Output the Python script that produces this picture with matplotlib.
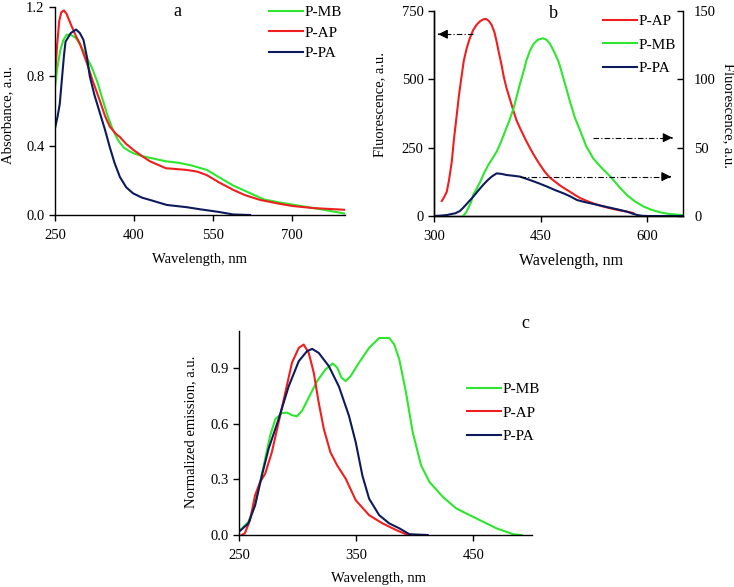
import matplotlib
matplotlib.use("Agg")
import matplotlib.pyplot as plt

plt.rcParams["font.family"] = ["Liberation Serif", "DejaVu Serif"]
plt.rcParams["axes.linewidth"] = 1.0

GREEN = "#2ee62e"
RED = "#f01e1e"
NAVY = "#0d1a5c"

# --- panel a: absorbance ---
a_mb_x = [250, 255, 260, 266, 272, 280, 290, 300, 310, 320, 330, 340, 350, 360, 370,
          380, 390, 400, 415, 430, 460, 487, 510, 538, 560, 588, 610, 646, 677, 720, 760, 800]
a_mb_y = [0.74, 0.86, 0.95, 1.01, 1.04, 1.04, 1.02, 0.97, 0.91, 0.85, 0.77, 0.67, 0.57, 0.49, 0.43,
          0.39, 0.37, 0.355, 0.34, 0.33, 0.31, 0.30, 0.285, 0.26, 0.22, 0.17, 0.14, 0.09, 0.072,
          0.05, 0.03, 0.008]
a_ap_x = [250, 254, 258, 262, 267, 272, 280, 290, 297, 310, 322, 335, 345, 354, 365, 373, 385, 399,
          415, 430, 445, 460, 480, 500, 520, 538, 560, 588, 610, 639, 677, 700, 740, 800]
a_ap_y = [0.80, 0.98, 1.12, 1.17, 1.18, 1.16, 1.10, 1.03, 0.99, 0.88, 0.77, 0.66, 0.57, 0.51, 0.47, 0.45,
          0.41, 0.375, 0.34, 0.31, 0.29, 0.27, 0.265, 0.26, 0.25, 0.23, 0.19, 0.145, 0.115, 0.087,
          0.064, 0.052, 0.04, 0.03]
a_pa_x = [250, 255, 259, 263, 267, 270, 280, 290, 297, 304, 310, 316, 325, 335, 345, 354, 363, 373,
          385, 398, 415, 430, 462, 500, 525, 560, 588, 620]
a_pa_y = [0.50, 0.57, 0.64, 0.78, 0.92, 1.00, 1.05, 1.07, 1.05, 1.01, 0.92, 0.80, 0.69, 0.59, 0.49,
          0.39, 0.30, 0.22, 0.16, 0.125, 0.10, 0.087, 0.058, 0.045, 0.033, 0.018, 0.003, 0.0]

# --- panel b: fluorescence (P-AP on left axis, P-MB / P-PA on right axis) ---
b_ap_x = [311, 314, 318, 321, 325, 328, 332, 335, 339, 342, 346, 350, 355, 360, 365, 369, 373, 377,
          381, 385, 388, 391, 395, 398, 402, 407, 412, 416, 421, 428, 435, 442, 449, 456, 463, 470,
          477, 484, 491, 498, 506, 515, 524, 536, 548, 560, 571, 580]
b_ap_y = [55, 68, 89, 130, 199, 280, 370, 440, 516, 570, 614, 648, 680, 700, 713, 719, 721, 714,
          699, 672, 638, 600, 552, 510, 467, 425, 382, 350, 321, 283, 248, 216, 187, 161, 140, 126,
          112, 100, 89, 77, 65, 55, 46, 36, 28, 21, 16, 11]
b_mb_x = [341, 345, 348, 352, 355, 360, 365, 370, 376, 382, 388, 394, 400, 406, 412, 416, 421, 426,
          430, 435, 440, 446, 453, 458, 463, 469, 475, 478, 484, 491, 498, 506, 514, 524, 536, 548,
          560, 571, 583, 595, 606, 618, 630, 649]
b_mb_y = [0, 2.5, 5.6, 10, 15.4, 20, 25, 31, 37, 42, 47, 54, 62, 70, 79, 87, 97, 106,
          114, 121, 126, 129, 130, 129, 126, 120, 113, 108, 97, 84, 72, 61.7, 51, 42, 35, 28.8,
          21.5, 15.4, 10.5, 6.8, 4.5, 2.7, 1.5, 0.7]
b_pa_x = [300, 310, 318, 325, 330, 336, 341, 348, 355, 362, 369, 375, 381, 388, 395, 402, 412, 421,
          435, 447, 459, 470, 482, 491, 501, 512, 524, 536, 548, 560, 571, 580, 586, 592, 600, 650]
b_pa_y = [0, 0.3, 0.7, 1.5, 2, 3.5, 6, 10, 14, 18.5, 22.7, 26, 28.8, 31.2, 30.8, 30, 29.4, 28.8,
          26.3, 24, 21.5, 19, 16.6, 14.5, 11.7, 10.2, 8.8, 7.4, 6, 4.6, 3.2, 1.6, 0.7, 0.2, 0, 0]

# --- panel c: normalized emission ---
c_mb_x = [250, 258, 263.7, 268, 272.3, 276.6, 281, 286.6, 290.9, 295.2, 299.5, 303.8, 309.5, 316.7,
          323.8, 330, 333.8, 337.5, 341, 345.3, 352.4, 361, 369.6, 378.2, 382.5, 386.8, 392.5, 398.2,
          405.4, 412.5, 424, 435.4, 452.6, 469.7, 484, 491.2]
c_mb_y = [0.018, 0.071, 0.16, 0.286, 0.41, 0.536, 0.625, 0.657, 0.66, 0.646, 0.64, 0.67, 0.741, 0.83,
          0.893, 0.925, 0.902, 0.848, 0.83, 0.857, 0.929, 1.009, 1.0625, 1.0625, 1.027, 0.946, 0.768,
          0.554, 0.375, 0.286, 0.205, 0.143, 0.089, 0.036, 0.004, 0.0]
c_ap_x = [252.3, 255, 259.4, 263.7, 268, 272.3, 278, 283.8, 289.5, 295.2, 301, 305.2, 309.5, 313.8,
          318, 322.4, 328, 333.8, 341, 349.6, 361, 372.5, 384, 392.5, 399.6]
c_ap_y = [0.0, 0.009, 0.08, 0.214, 0.286, 0.33, 0.446, 0.607, 0.768, 0.929, 1.009, 1.027, 0.982, 0.875,
          0.714, 0.571, 0.446, 0.375, 0.304, 0.1875, 0.107, 0.0625, 0.027, 0.004, 0.0]
c_pa_x = [250, 258, 263.7, 269.5, 275.2, 283.8, 292.3, 301, 308, 312.4, 318, 326.7, 335.3, 343.8,
          349.6, 355.3, 361, 369.6, 378.2, 386.8, 395.4, 411]
c_pa_y = [0.018, 0.0625, 0.16, 0.32, 0.464, 0.625, 0.80, 0.9375, 0.991, 1.0036, 0.982, 0.91, 0.80,
          0.643, 0.5, 0.32, 0.196, 0.107, 0.0625, 0.036, 0.004, 0.0]

# dash-dot arrows in panel b: (start, tip) in data units of the axis they belong to
ARROW_AP = ((355, 665), (306, 665))     # left axis
ARROW_MB = ((524, 57.3), (635, 57.3))   # right axis
ARROW_PA = ((421, 28.8), (633, 28.8))   # right axis

W, H = 734, 587


def px_rect(left, top, right, bottom):
    return [left / W, 1 - bottom / H, (right - left) / W, (bottom - top) / H]


def style(ax, right=False):
    ax.spines["top"].set_visible(False)
    if not right:
        ax.spines["right"].set_visible(False)
    ax.tick_params(direction="out", length=4, width=1, labelsize=10.5)
    ax.tick_params(axis="x", pad=6)


def legend(ax, handles, left, top, spacing):
    ax.legend(handles=handles, loc="upper left", bbox_to_anchor=(left / W, 1 - top / H),
              bbox_transform=fig.transFigure, frameon=False, fontsize=11, borderpad=0,
              borderaxespad=0, handlelength=2.2, handletextpad=0.15, labelspacing=spacing)


def arrow(ax, start, tip):
    ax.plot([start[0], tip[0]], [start[1], tip[1]], color="black", lw=0.8,
            ls=(0, (5, 2, 1, 2)))
    back = tip[0] + (start[0] - tip[0]) * 0.01
    ax.annotate("", xy=tip, xytext=(back, tip[1]),
                arrowprops=dict(arrowstyle="-|>", color="black", lw=0.8, mutation_scale=14))


fig = plt.figure(figsize=(W / 100, H / 100), dpi=100)

# panel a
ax_a = fig.add_axes(px_rect(55, 7, 345, 215))
l_mb, = ax_a.plot(a_mb_x, a_mb_y, color=GREEN, lw=1.5, label="P-MB")
l_ap, = ax_a.plot(a_ap_x, a_ap_y, color=RED, lw=1.5, label="P-AP")
l_pa, = ax_a.plot(a_pa_x, a_pa_y, color=NAVY, lw=1.5, label="P-PA")
ax_a.set_xlim(250, 800)
ax_a.set_ylim(0, 1.2)
ax_a.set_xticks([250, 400, 550, 700])
ax_a.set_yticks([0.0, 0.4, 0.8, 1.2])
ax_a.set_yticklabels(["0.0", "0.4", "0.8", "1.2"])
style(ax_a)
ax_a.set_xlabel("Wavelength, nm", fontsize=10.5)
ax_a.xaxis.set_label_coords(0.5, -0.183)
ax_a.set_ylabel("Absorbance, a.u.", fontsize=10.5)
ax_a.yaxis.set_label_coords(-0.141, 0.48)
legend(ax_a, [l_mb, l_ap, l_pa], 269, 5.5, 0.45)
fig.text(177 / W, 1 - 12 / H, "a", fontsize=13, ha="center", va="center")

# panel b
ax_b = fig.add_axes(px_rect(434, 11, 683, 216))
ax_b2 = ax_b.twinx()
m_ap, = ax_b.plot(b_ap_x, b_ap_y, color=RED, lw=1.5, label="P-AP")
m_mb, = ax_b2.plot(b_mb_x, b_mb_y, color=GREEN, lw=1.5, label="P-MB")
m_pa, = ax_b2.plot(b_pa_x, b_pa_y, color=NAVY, lw=1.5, label="P-PA")
ax_b.set_xlim(300, 650)
ax_b.set_ylim(0, 750)
ax_b2.set_ylim(0, 150)
ax_b.set_xticks([300, 450, 600])
ax_b.set_yticks([0, 250, 500, 750])
ax_b2.set_yticks([0, 50, 100, 150])
style(ax_b)
ax_b2.spines["top"].set_visible(False)
ax_b2.tick_params(direction="in", length=4, width=1, labelsize=10.5, pad=8)
ax_b.set_xlabel("Wavelength, nm", fontsize=11.5)
ax_b.xaxis.set_label_coords(0.55, -0.18)
ax_b.set_ylabel("Fluorescence, a.u.", fontsize=10.5)
ax_b.yaxis.set_label_coords(-0.193, 0.546)
ax_b2.set_ylabel("Fluorescence, a.u.", fontsize=10.5, rotation=270, va="bottom")
ax_b2.yaxis.set_label_coords(1.155, 0.49)
arrow(ax_b, *ARROW_AP)
arrow(ax_b2, *ARROW_MB)
arrow(ax_b2, *ARROW_PA)
legend(ax_b2, [m_ap, m_mb, m_pa], 603, 14.5, 0.65)
fig.text(553 / W, 1 - 13 / H, "b", fontsize=13, ha="center", va="center")

# panel c
ax_c = fig.add_axes(px_rect(239, 331, 532, 535))
n_mb, = ax_c.plot(c_mb_x, c_mb_y, color=GREEN, lw=1.5, label="P-MB")
n_ap, = ax_c.plot(c_ap_x, c_ap_y, color=RED, lw=1.5, label="P-AP")
n_pa, = ax_c.plot(c_pa_x, c_pa_y, color=NAVY, lw=1.5, label="P-PA")
ax_c.set_xlim(250, 500)
ax_c.set_ylim(0, 1.1)
ax_c.set_xticks([250, 350, 450])
ax_c.set_yticks([0.0, 0.3, 0.6, 0.9])
ax_c.set_yticklabels(["0.0", "0.3", "0.6", "0.9"])
style(ax_c)
ax_c.set_xlabel("Wavelength, nm", fontsize=10.5)
ax_c.xaxis.set_label_coords(0.475, -0.18)
ax_c.set_ylabel("Normalized emission, a.u.", fontsize=10.5)
ax_c.yaxis.set_label_coords(-0.143, 0.506)
legend(ax_c, [n_mb, n_ap, n_pa], 467, 382.5, 0.65)
fig.text(525 / W, 1 - 324 / H, "c", fontsize=13, ha="center", va="center")

fig.savefig("out.png", dpi=100)
